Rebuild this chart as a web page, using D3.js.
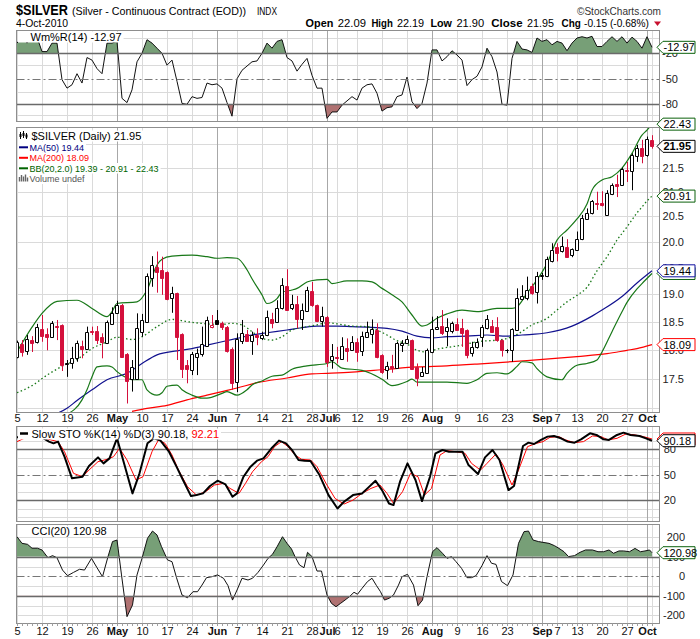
<!DOCTYPE html>
<html>
<head>
<meta charset="utf-8">
<script src="https://cdn.jsdelivr.net/npm/d3@7"></script>
<style>
  body { margin: 0; background: #fff; }
  svg { display: block; }
  text { font-family: "Liberation Sans", Arial, sans-serif; }
</style>
</head>
<body>
<div id="chart"></div>
<script>
'use strict';

// ---- data (bar index 0 = 5-Apr-2010, 127 = 4-Oct-2010) ----
const open = [17.88,18.10,17.97,18.17,18.13,18.37,18.28,18.23,18.43,18.44, 17.75,17.76,17.85,18.07,18.02,18.33,18.33,18.23,18.11,18.46,
  18.65,18.80,17.92,17.49,17.49,18.32,18.50,19.31,19.52,19.46, 19.41,18.94,19.02,18.27,17.73,17.65,17.87,17.93,18.07,18.40,
  18.53,18.47,18.41,18.02,17.45,18.16,18.28,18.16,18.26,18.20, 18.26,18.55,18.50,18.74,19.15,18.74,18.82,18.54,18.70,19.06,
  18.80,18.52,18.59,17.82,17.88,17.83,18.03,17.99,18.13,17.98, 18.23,18.28,18.35,17.91,17.65,17.71,17.69,18.09,18.11,18.17,
  17.70,17.54,17.59,17.96,18.37,18.42,18.34,18.34,18.45,18.38, 18.35,17.94,18.04,18.22,18.38,18.42,18.41,18.17,17.99,17.99,
  18.35,18.91,18.93,19.15,19.05,19.34,19.34,19.62,19.90,19.81, 19.89,19.74,19.84,20.05,20.44,20.56,20.77,20.77,20.53,20.95,
  21.15,21.14,21.45,21.42,21.75,21.91,21.77,22.09];
const high = [18.16,18.17,18.26,18.24,18.46,18.62,18.38,18.51,18.53,18.45, 17.82,18.05,18.16,18.16,18.41,18.41,18.42,18.29,18.52,18.76,
  18.88,18.82,17.94,17.82,18.65,18.64,19.39,19.72,19.81,19.71, 19.43,19.14,19.03,18.29,17.82,17.96,18.02,18.41,18.59,18.62,
  18.71,18.50,18.42,18.04,18.29,18.53,18.35,18.32,18.38,18.32, 18.70,18.66,18.89,19.30,19.47,18.99,18.97,18.83,19.14,19.23,
  18.81,18.77,18.60,18.10,18.05,18.22,18.20,18.24,18.20,18.32, 18.50,18.54,18.47,17.92,17.79,17.91,18.14,18.17,18.25,18.18,
  17.76,17.70,18.02,18.59,18.60,18.71,18.56,18.50,18.56,18.55, 18.36,18.14,18.20,18.44,18.62,18.53,18.58,18.18,18.01,18.38,
  19.11,19.17,19.33,19.20,19.42,19.40,19.71,19.97,19.97,20.10, 20.05,19.87,20.20,20.53,20.66,20.83,21.00,21.01,21.03,21.17,
  21.35,21.50,21.62,21.80,21.98,22.09,22.16,22.19];
const low = [17.85,17.88,17.91,17.96,18.11,18.14,17.99,18.23,18.17,17.63, 17.53,17.67,17.79,17.85,18.01,18.26,18.10,17.85,18.10,18.44,
  18.64,17.87,17.08,17.28,17.48,18.23,18.48,19.14,19.03,18.99, 18.89,18.66,17.82,17.51,17.42,17.56,17.56,17.88,18.05,18.38,
  18.44,18.35,17.95,17.31,17.27,18.10,18.14,17.91,18.08,18.17, 18.24,18.38,18.48,18.72,18.71,18.71,18.38,18.35,18.68,18.77,
  18.49,18.41,17.70,17.67,17.76,17.82,17.79,17.98,17.79,17.89, 18.23,18.11,17.85,17.58,17.49,17.60,17.67,17.96,18.10,17.65,
  17.37,17.54,17.58,17.94,18.35,18.26,18.06,18.29,18.35,18.05, 17.85,17.88,18.02,18.05,18.36,18.30,18.14,17.88,17.94,17.79,
  18.34,18.89,18.89,18.99,18.83,19.27,19.32,19.60,19.62,19.79, 19.70,19.70,19.82,20.03,20.43,20.54,20.63,20.70,20.52,20.93,
  20.89,21.12,21.20,21.03,21.62,21.59,21.73,21.90];
const close = [18.13,17.96,18.19,18.11,18.40,18.25,18.23,18.47,18.40,17.74, 17.77,17.86,18.11,18.01,18.32,18.31,18.18,18.13,18.50,18.66,
  18.80,17.88,17.46,17.70,18.38,18.53,19.34,19.56,19.42,19.31, 18.92,19.03,18.23,17.67,17.66,17.92,17.95,18.10,18.53,18.44,
  18.46,18.41,17.98,17.43,18.19,18.30,18.16,18.26,18.22,18.26, 18.58,18.48,18.74,19.18,18.72,18.83,18.54,18.71,19.08,18.80,
  18.51,18.61,17.79,17.89,17.85,18.07,17.98,18.13,17.96,18.24, 18.32,18.36,17.87,17.62,17.71,17.68,18.11,18.12,18.19,17.67,
  17.51,17.62,17.99,18.36,18.41,18.30,18.41,18.47,18.35,18.30, 17.91,18.05,18.13,18.41,18.54,18.32,18.17,17.99,18.00,18.36,
  18.93,18.96,19.08,19.02,19.35,19.37,19.66,19.84,19.79,19.92, 19.71,19.85,20.06,20.46,20.57,20.81,20.75,20.73,20.97,21.14,
  21.12,21.48,21.43,21.77,21.91,21.75,22.10,21.95];
const prevClose = 17.90;

// overlays: [bar index, value]
const ma50 = [[7,16.88],[10,17.00],[12,17.13],[15,17.31],[18,17.48],[22,17.59],[25,17.76],[28,17.91],[32,17.98],[35,18.02],[38,18.08],
  [41,18.14],[44,18.20],[47,18.26],[50,18.30],[54,18.35],[57,18.39],[60,18.42],[64,18.42],[67,18.41],[70,18.40],[74,18.38],
  [77,18.33],[80,18.24],[83,18.21],[86,18.23],[90,18.24],[94,18.26],[98,18.24],[101,18.26],[106,18.30],[111,18.42],[115,18.60],
  [117,18.71],[121,18.96],[124,19.21],[127,19.44]];
const ma200 = [[23,16.95],[26,17.00],[30,17.05],[34,17.14],[38,17.22],[41,17.28],[44,17.34],[48,17.43],[54,17.51],[59,17.58],
  [62,17.59],[67,17.61],[74,17.66],[80,17.70],[86,17.72],[92,17.75],[102,17.81],[112,17.88],[118,17.93],[122,17.99],[124,18.02],[127,18.09]];
const bbUpper = [[0,17.96],[3,18.40],[5,18.65],[8,18.87],[12,18.89],[15,18.74],[18,18.59],[19,18.68],[20,18.83],[24,18.86],[26,19.08],
  [28,19.55],[29,19.66],[31,19.72],[35,19.74],[38,19.71],[40,19.68],[42,19.69],[44,19.68],[46,19.46],[47,19.29],[49,18.99],[50,18.83],
  [52,18.92],[53,19.04],[55,19.08],[56,19.11],[58,19.23],[60,19.27],[62,19.28],[63,19.20],[66,19.25],[69,19.25],[71,19.23],[73,19.11],
  [75,18.99],[77,18.86],[79,18.62],[81,18.42],[82,18.44],[84,18.56],[86,18.64],[89,18.71],[92,18.68],[96,18.74],[99,18.74],[100,18.77],
  [102,19.02],[104,19.27],[106,19.58],[108,20.03],[110,20.23],[112,20.45],[114,20.75],[115,21.03],[117,21.24],[119,21.31],[121,21.49],
  [123,21.80],[125,22.19],[126,22.30],[127,22.43]];
const bbMid = [[0,17.26],[3,17.38],[6,17.56],[9,17.71],[12,17.83],[15,18.02],[18,18.14],[20,18.22],[23,18.18],[25,18.23],[28,18.41],
  [31,18.54],[34,18.50],[38,18.46],[41,18.45],[43,18.47],[45,18.44],[47,18.32],[49,18.20],[51,18.17],[53,18.23],[55,18.35],[58,18.41],
  [60,18.44],[62,18.48],[64,18.46],[67,18.42],[70,18.41],[72,18.35],[74,18.26],[76,18.16],[78,18.10],[80,17.99],[82,17.96],[84,18.01],
  [86,18.04],[89,18.08],[92,18.14],[96,18.17],[98,18.20],[100,18.27],[103,18.44],[106,18.56],[108,18.71],[110,18.86],[112,18.98],
  [114,19.13],[116,19.44],[118,19.71],[120,20.03],[122,20.29],[124,20.57],[125,20.69],[126,20.81],[127,20.91]];
const bbLower = [[10,16.90],[13,17.14],[14,17.31],[15,17.53],[16,17.70],[18,17.72],[19,17.70],[20,17.62],[22,17.51],[23,17.48],[25,17.48],
  [26,17.31],[28,17.22],[29,17.26],[30,17.37],[32,17.39],[33,17.31],[35,17.22],[37,17.17],[38,17.17],[41,17.25],[42,17.28],[44,17.22],
  [46,17.31],[47,17.39],[49,17.46],[51,17.54],[53,17.56],[55,17.66],[58,17.72],[62,17.76],[63,17.79],[65,17.68],[69,17.64],[73,17.49],
  [75,17.38],[78,17.45],[79,17.49],[80,17.44],[86,17.44],[90,17.42],[92,17.48],[94,17.59],[96,17.60],[98,17.58],[100,17.71],[101,17.79],
  [103,17.77],[104,17.67],[106,17.53],[109,17.48],[110,17.59],[112,17.73],[114,17.76],[116,17.82],[117,17.96],[119,18.32],[121,18.68],
  [122,18.85],[124,19.10],[125,19.20],[127,19.39]];

// Williams %R, one value per bar
const wmr = [-8,-1,-8,-1,-1,-18,-18,-8,-8,-51, -61,-57,-44,-55,-25,-28,-38,-44,-8,-8,
  -6,-73,-78,-63,-30,-20,-4,-8,-14,-20, -34,-28,-53,-79,-80,-71,-73,-72,-55,-57,
  -56,-61,-78,-94,-50,-40,-35,-30,-29,-20, -8,-14,-6,-4,-25,-29,-41,-33,-26,-46,
  -61,-61,-96.5,-89,-89,-81,-76,-71,-75,-61, -57,-56,-67,-88,-84,-83,-71,-69,-48,-77,
  -85,-79,-55,-16,-16,-29,-24,-17,-22,-28, -58,-51,-47,-36,-14,-24,-42,-80,-81,-26,
  -6,-15,-16,-19,-2,-6,-4,-10,-6,-8, -17,-8,-2,-0.5,-2,0,-12,-12,-6,-0.5,
  -6,-0.5,-8,-1,-6,-14,-0.5,-12.97];

// slow stochastics %K and %D, [bar index, value]
const stoK = [[0,94.2],[1.9,94.2],[3.7,94.2],[5,94.2],[6.4,89.1],[7.3,87.1],[8.2,89.1],[9.5,71.3],[11,45.7],[13.1,47.6],[14.4,60.3],
  [16.2,70.5],[17.3,63.4],[18.5,69.3],[20,93],[21.6,59.5],[23.1,27.9],[24.5,51.6],[26.1,87.1],[27.4,93],[28.7,90.3],[30.4,77.2],
  [31.9,59.5],[33.2,43.7],[34.8,24.7],[35.9,25.9],[37.2,27.9],[38.6,36.6],[40.1,42.9],[41.7,38.5],[43.1,23.9],[44,27.9],[45.3,47.6],
  [46.6,58.7],[48,66.6],[49.3,69.3],[50.9,81.2],[52.4,90.3],[53.8,87.1],[55.1,78.4],[56.3,67.4],[57.5,66.6],[58.7,66.2],[60.5,49.6],
  [62.3,25.9],[64.1,10.1],[65.4,18],[67.2,25.9],[69,27.9],[70.3,35],[71.7,42.9],[73,31.8],[74.4,16],[75.3,14.1],[76.6,41.7],
  [78.1,63.4],[79.7,43.7],[81,18.8],[82.6,47.6],[83.7,75.3],[85.1,79.2],[86.4,77.2],[87.8,77.2],[89.1,77.2],[90.3,61.4],[92.2,50.8],
  [93.6,70.5],[95.1,79.2],[96.5,67.4],[98.3,31.8],[99.4,36.6],[101.2,83.9],[102.3,87.9],[103.4,86.3],[104.8,91.1],[106.1,95],
  [107.4,95.8],[108.8,93],[110.1,89.1],[111.5,87.9],[112.8,91.8],[114.6,98.9],[115.9,97],[117.3,91.8],[118.4,91.1],[120,97],
  [121.3,99.7],[122.7,97],[124.5,95.8],[125.8,93],[127,90.18]];
const stoD = [[0,89.1],[1.9,94.2],[3.7,94.2],[5.5,93],[6.8,91.1],[8.2,89.1],[9.5,77.2],[11.3,51.6],[13.1,47.6],[14.4,55.5],[16.2,65.4],
  [18,68.2],[19.3,71.3],[20.5,81.2],[22,67.4],[23.8,43.7],[25.2,47.6],[27,77.2],[28.3,91.1],[29.6,87.1],[31,73.3],[32.3,55.5],
  [34.1,35.8],[35.9,25.9],[37.7,29.9],[39.5,37.8],[41.3,39.7],[42.6,33.8],[44.4,27.9],[45.7,39.7],[47.1,53.5],[48.9,65.4],[50.2,71.3],
  [51.5,83.2],[52.9,89.1],[54.2,83.2],[55.6,73.3],[56.9,68.2],[58.7,67.4],[60,59.5],[61.8,39.7],[63.6,22],[65.4,15.3],[67.2,20],
  [69,27.9],[70.8,33.8],[72.6,37.8],[74,27.9],[75.3,16],[77.1,29.9],[78.7,51.6],[80.2,47.6],[81.5,25.9],[82.9,33.8],[84.6,73.3],
  [86,78.4],[87.8,77.2],[89.6,75.3],[90.9,63.4],[92.7,55.5],[94,63.4],[95.8,74.5],[97.2,61.4],[99,37.8],[100.3,55.5],[102.1,83.2],
  [103.9,87.1],[105.2,89.1],[106.6,94.2],[108.4,95],[109.7,91.1],[111.5,87.9],[113.3,89.1],[115.1,95.8],[116.8,95],[118.2,91.1],
  [120,93],[121.8,98.2],[123.6,97],[125.3,95],[127,92.21]];

// CCI(20), [bar index, value]
const cci = [[0,203],[1,169],[2.1,164],[3,144],[4.1,144],[5,135],[6.2,95],[7.1,106],[8,95],[9.1,32],[10.1,3],[11.3,20],[12.5,36],
  [13.5,32],[14.9,92],[16,44],[17.1,-2],[18.2,101],[19.1,178],[20,186],[20.9,7],[22,-207],[23.1,-147],[24,7],[25,92],[26.1,195],
  [27.1,232],[28,212],[28.9,152],[30.1,84],[31,75],[31.9,-7],[33,-96],[34.1,-110],[35.2,-79],[36.1,-79],[37,-45],[37.9,-7],[39,-2],
  [40.1,7],[41.3,-10],[42.2,-48],[43.1,-122],[44.1,-65],[45,-10],[46.2,-19],[47.1,-10],[48.2,20],[49.3,58],[50.2,92],[51.1,113],
  [52,151],[53.1,203],[54,169],[54.9,140],[55.6,101],[56.5,58],[57.4,44],[58.1,123],[59,101],[60,27],[60.9,27],[62,-96],[62.9,-139],
  [63.8,-156],[64.7,-139],[65.6,-122],[66.5,-104],[67.4,-82],[68.1,-92],[69,-62],[70.1,-27],[71,-10],[71.9,-48],[72.7,-79],
  [73.5,-122],[74.4,-113],[75.3,-96],[76.3,-45],[77,-2],[78.1,10],[79.3,-45],[80.2,-151],[81.1,-122],[82,-2],[83.1,126],[84,147],
  [85.1,118],[86,92],[86.9,101],[87.8,75],[88.9,41],[90,-7],[90.9,-7],[91.8,3],[93,55],[94,106],[94.9,67],[95.8,61],[96.9,-27],
  [98.1,-48],[99.2,7],[100.3,169],[101.4,229],[102.3,232],[103.2,186],[104.3,178],[105.2,174],[106.4,169],[107.5,157],[108.4,143],
  [109.4,126],[110.3,101],[111.5,106],[112.6,123],[113.7,135],[115.1,135],[116.2,126],[117.3,126],[118.4,135],[119.3,118],
  [120.4,130],[121.3,130],[122.5,126],[123.6,143],[124.7,126],[125.6,130],[126.5,135],[127,120.98]];

// x axis: first trading day of each week, month starts, tick labels
const weekStarts = [0,5,10,15,20,25,30,35,40,44,49,54,59,62,64,68,73,78,83,88,93,98,103,105,108,112,117,122,126,127];
const monthStarts = [20,40,62,83,105,126];
const xTicks = [[0,'5'],[5,'12'],[10,'19'],[15,'26'],[20,'May'],[25,'10'],[30,'17'],[35,'24'],[40,'Jun'],[44,'7'],[49,'14'],
  [54,'21'],[59,'28'],[62,'Jul'],[64,'6'],[68,'12'],[73,'19'],[78,'26'],[83,'Aug'],[88,'9'],[93,'16'],[98,'23'],[105,'Sep'],
  [108,'7'],[112,'13'],[117,'20'],[122,'27'],[126,'Oct']];

const priceTicks = [17.0,17.5,18.0,18.5,19.0,19.5,20.0,20.5,21.0,21.5,22.0];
const priceLabels = [17.5,18.0,18.5,19.0,19.5,20.0,20.5,21.0,21.5];
const quoteLabels = ['Open','High','Low','Close','Chg'];
const quoteValues = ['22.09','22.19','21.90','21.95','-0.15 (-0.68%)'];

// ---- layout ----
const W = 700, H = 639;
const plotL = 16.5, plotR = 659.5;
const RED = '#d4103c', GREEN_FILL = '#779f77', RED_FILL = '#b07272';
const BB = '#187818', MA50C = '#12128f', MA200C = '#ff0000';

const svg = d3.select('#chart').append('svg').attr('width', W).attr('height', H);
const defs = svg.append('defs');

const x = d3.scaleLinear().domain([0, 127]).range([17, 652]);
const cx = i => x(i) + 0.5;
const crisp = v => Math.round(v) + 0.5;

const pWmr = {name: 'wmr', top: 30.5, bottom: 121.5};
const pPrice = {name: 'price', top: 127.5, bottom: 412.5};
const pSto = {name: 'sto', top: 426.5, bottom: 521.5};
const pCci = {name: 'cci', top: 524.5, bottom: 623.5};

const yW = d3.scaleLinear().domain([-100, 0]).range([121.3, 36.3]);
const yP = d3.scaleLog().domain([17.5, 22]).range([378.6, 144.0]);
const yS = d3.scaleLinear().domain([0, 100]).range([517, 432.4]);
const yC = d3.scaleLinear().domain([-200, 200]).range([615.3, 537.3]);

function clip(id, x0, y0, x1, y1) {
  defs.append('clipPath').attr('id', id).append('rect')
    .attr('x', x0).attr('y', y0).attr('width', x1 - x0).attr('height', y1 - y0);
  return 'url(#' + id + ')';
}

function grid(p, y, values) {
  const g = svg.append('g');
  g.selectAll(null).data(values).join('line')
    .attr('x1', plotL).attr('x2', plotR)
    .attr('y1', d => crisp(y(d))).attr('y2', d => crisp(y(d)))
    .attr('stroke', '#dadada');
  g.selectAll(null).data(weekStarts).join('line')
    .attr('x1', cx).attr('x2', cx).attr('y1', p.top).attr('y2', p.bottom)
    .attr('stroke', d => monthStarts.includes(d) ? '#a8a8a8' : '#dadada');
}

function level(p, y, v, dashed) {
  svg.append('line').attr('x1', plotL).attr('x2', plotR)
    .attr('y1', crisp(y(v))).attr('y2', crisp(y(v)))
    .attr('stroke', dashed ? '#777' : '#6a6a6a').attr('stroke-width', dashed ? 1 : 1.4)
    .attr('stroke-dasharray', dashed ? '8,3,2,3' : null);
}

function border(p) {
  svg.append('rect').attr('x', plotL).attr('y', p.top).attr('width', plotR - plotL).attr('height', p.bottom - p.top)
    .attr('fill', 'none').attr('stroke', '#8e8e8e');
}

function axisLabels(y, values, anchorX, fmt) {
  svg.append('g').selectAll(null).data(values).join('text')
    .attr('x', anchorX).attr('y', d => y(d)).attr('dy', '0.36em')
    .attr('text-anchor', 'end').attr('font-size', 11).attr('fill', '#222')
    .text(fmt || (d => d));
}

// value tag at the right axis; label null = tag hidden under another one
function tag(yv, label, color, bold) {
  const h = 12, x0 = 657, w = 38;
  const pts = [[x0, yv], [x0 + 6, yv - h / 2], [x0 + w, yv - h / 2], [x0 + w, yv + h / 2], [x0 + 6, yv + h / 2]];
  svg.append('path').attr('d', d3.line()(pts) + 'Z').attr('fill', '#fff').attr('stroke', color);
  if (label === null) return;
  svg.append('text').attr('x', x0 + 6.5).attr('y', yv).attr('dy', '0.36em')
    .attr('font-size', 11).attr('font-weight', bold ? 'bold' : null).attr('fill', '#000').text(label);
}

function legendLine(xText, baseline, size, parts, boxH) {
  const t = svg.append('text').attr('x', xText).attr('y', baseline)
    .attr('font-family', '"DejaVu Sans", Verdana, sans-serif').attr('font-size', size);
  parts.forEach(([s, c]) => t.append('tspan').attr('fill', c).text(s));
  const w = t.node().getComputedTextLength();
  svg.insert('rect', () => t.node())
    .attr('x', 18).attr('y', baseline - boxH + 2).attr('width', xText - 18 + w + 2).attr('height', boxH)
    .attr('fill', '#fff');
  return t;
}

function mountainIcon(x0, y0) {
  svg.append('path')
    .attr('d', `M${x0},${y0 + 8} L${x0 + 2},${y0 + 1} L${x0 + 4},${y0 + 5} L${x0 + 6},${y0 + 2} L${x0 + 8},${y0 + 8} Z`)
    .attr('fill', GREEN_FILL).attr('stroke', '#000').attr('stroke-width', 1);
}

function xTickMarks(p) {
  svg.append('g').selectAll(null).data(d3.range(128)).join('line')
    .attr('x1', cx).attr('x2', cx).attr('y1', p.bottom).attr('y2', p.bottom + 2.5)
    .attr('stroke', '#a0a0a0');
}

function xAxisLabels(baseline) {
  svg.append('g').selectAll(null).data(xTicks).join('text')
    .attr('x', d => cx(d[0])).attr('y', baseline).attr('text-anchor', 'middle')
    .attr('font-size', 11).attr('font-weight', d => isNaN(+d[1]) ? 'bold' : null)
    .attr('fill', '#111').text(d => d[1]);
}

// ---- header ----
const NARROW = '"Liberation Sans Narrow", "Liberation Sans", Arial, sans-serif';
function htext(x0, y0, s, size, w, bold, fill) {
  svg.append('text').attr('x', x0).attr('y', y0).attr('font-family', NARROW).attr('font-size', size)
    .attr('font-weight', bold ? 'bold' : null).attr('fill', fill || '#000')
    .attr('textLength', w).attr('lengthAdjust', 'spacingAndGlyphs').text(s);
}
htext(16, 15, '$SILVER', 15, 52, true);
htext(72, 15, '(Silver - Continuous Contract (EOD))', 11, 174);
htext(257, 14.5, 'INDX', 10, 20);
htext(16, 26.5, '4-Oct-2010', 11, 52);
htext(577, 14.5, '\u00A9StockCharts.com', 10.5, 84, false, '#333');
const quoteLabelX = [[305.6, 27.7], [371.4, 21.4], [430.4, 21.5], [491.3, 31.3], [561.5, 19.3]];
const quoteValueX = [[337.8, 28.2], [396.9, 27.3], [456.4, 27.8], [527, 27], [584, 64.8]];
quoteLabels.forEach((s, k) => htext(quoteLabelX[k][0], 26.5, s, 11.5, quoteLabelX[k][1], true));
quoteValues.forEach((s, k) => htext(quoteValueX[k][0], 26.5, s, 11, quoteValueX[k][1]));
svg.append('path').attr('d', 'M654,21.5 L661,21.5 L657.5,26 Z').attr('fill', '#c8102e');

// ---- Williams %R panel ----
grid(pWmr, yW, [-2.5, -34, -65, -93]);
const clipW = clip('clip-wmr', plotL, pWmr.top, plotR, pWmr.bottom);
const wg = svg.append('g').attr('clip-path', clipW);
const wArea = base => d3.area().x((d, i) => x(i)).y0(yW(base)).y1(d => yW(d));
wg.append('path').datum(wmr).attr('d', wArea(-20)).attr('fill', GREEN_FILL)
  .attr('clip-path', clip('clip-wmr-up', plotL, pWmr.top, plotR, yW(-20)));
wg.append('path').datum(wmr).attr('d', wArea(-80)).attr('fill', RED_FILL)
  .attr('clip-path', clip('clip-wmr-dn', plotL, yW(-80), plotR, pWmr.bottom));
level(pWmr, yW, -20); level(pWmr, yW, -80); level(pWmr, yW, -50, true);
wg.append('path').datum(wmr).attr('d', d3.line().x((d, i) => x(i)).y(d => yW(d)))
  .attr('fill', 'none').attr('stroke', '#111').attr('stroke-width', 1);
border(pWmr);
axisLabels(yW, [-20, -50, -80], 678);
tag(yW(-12.97), '-12.97', '#0b610b');
mountainIcon(19, 31.5);
legendLine(30.5, 40.5, 11, [['Wm%R(14) -12.97', '#000']], 11);

// ---- price panel ----
grid(pPrice, yP, priceTicks);
const clipP = clip('clip-price', plotL, pPrice.top, plotR, pPrice.bottom);
const pg = svg.append('g').attr('clip-path', clipP);
const ovLine = d3.line().x(d => x(d[0])).y(d => yP(d[1])).curve(d3.curveMonotoneX);
pg.append('path').datum(ma200).attr('d', ovLine).attr('fill', 'none').attr('stroke', MA200C).attr('stroke-width', 1.2);
pg.append('path').datum(ma50).attr('d', ovLine).attr('fill', 'none').attr('stroke', MA50C).attr('stroke-width', 1.2);
pg.append('path').datum(bbMid).attr('d', ovLine).attr('fill', 'none').attr('stroke', BB).attr('stroke-width', 1.3)
  .attr('stroke-dasharray', '1.5,2.5');
[bbUpper, bbLower].forEach(s => pg.append('path').datum(s).attr('d', ovLine)
  .attr('fill', 'none').attr('stroke', BB).attr('stroke-width', 1.2));

const bars = d3.range(close.length).map(i => {
  const prev = i ? close[i - 1] : prevClose;
  return {i, o: open[i], h: high[i], l: low[i], c: close[i], col: close[i] < prev ? RED : '#000'};
});
const cg = pg.append('g');
cg.selectAll(null).data(bars).join('line')
  .attr('x1', d => cx(d.i)).attr('x2', d => cx(d.i))
  .attr('y1', d => yP(d.h)).attr('y2', d => yP(d.l)).attr('stroke', d => d.col);
cg.selectAll(null).data(bars).join('path')
  .attr('d', d => {
    const x0 = x(d.i) - 1.5, x1 = x(d.i) + 1.5;
    const yt = crisp(yP(Math.max(d.o, d.c))), yb = crisp(yP(Math.min(d.o, d.c)));
    return `M${x0},${yt}H${x1}V${yb}H${x0}Z`;
  })
  .attr('fill', d => d.c < d.o ? d.col : '#fff').attr('stroke', d => d.col);

border(pPrice);
axisLabels(yP, priceLabels, 684, d => d.toFixed(1));
tag(yP(22.43), '22.43', '#0b610b');
tag(yP(21.95), '21.95', '#000', true);
tag(yP(20.91), '20.91', '#0b610b');
tag(yP(19.39), null, '#0b610b');
tag(yP(19.44), '19.44', '#1010a0');
tag(yP(18.09), '18.09', '#ff0000');

// price legend
legendLine(31.5, 139.5, 11, [['$SILVER (Daily) 21.95', '#000']], 11);
const ic = svg.append('g').attr('stroke', '#000');
[[20.5, 132, 139, 134, 137], [23.5, 131, 138, 133, 136], [26.5, 133, 139, 134.5, 137.5]].forEach(([xx, y1, y2, b1, b2]) => {
  ic.append('line').attr('x1', xx).attr('x2', xx).attr('y1', y1).attr('y2', y2);
  ic.append('rect').attr('x', xx - 1).attr('y', b1).attr('width', 2).attr('height', b2 - b1).attr('fill', '#000').attr('stroke', 'none');
});
const legendRows = [
  ['MA(50) 19.44', '#000080', 150.5],
  ['MA(200) 18.09', '#ff0000', 161],
  ['BB(20,2.0) 19.39 - 20.91 - 22.43', '#006400', 171.5]
];
legendRows.forEach(([s, c, b]) => {
  legendLine(29.5, b, 9, [[s, c]], 10.5);
  svg.append('line').attr('x1', 19).attr('x2', 28).attr('y1', b - 3.2).attr('y2', b - 3.2)
    .attr('stroke', c).attr('stroke-width', 2);
});
legendLine(29.5, 182, 9, [['Volume undef', '#555']], 10.5);
[[19.5, 177], [21.5, 175], [23.5, 176.5], [25.5, 174.5], [27.5, 177.5]].forEach(([xx, yy]) =>
  svg.append('line').attr('x1', xx).attr('x2', xx).attr('y1', yy).attr('y2', 181.5).attr('stroke', '#666').attr('stroke-width', 1.4));

xAxisLabels(422);

// ---- slow stochastics panel ----
grid(pSto, yS, [0, 10, 30, 40, 60, 70, 90, 100]);
const clipS = clip('clip-sto', plotL, pSto.top, plotR, pSto.bottom);
level(pSto, yS, 80); level(pSto, yS, 20); level(pSto, yS, 50, true);
const sg = svg.append('g').attr('clip-path', clipS);
const sLine = d3.line().x(d => x(d[0])).y(d => yS(d[1]));
sg.append('path').datum(stoD).attr('d', sLine).attr('fill', 'none').attr('stroke', '#ff0000').attr('stroke-width', 1);
sg.append('path').datum(stoK).attr('d', sLine).attr('fill', 'none').attr('stroke', '#000').attr('stroke-width', 2)
  .attr('stroke-linejoin', 'round');
border(pSto);
axisLabels(yS, [80, 50, 20], 676);
tag(yS(92.21), null, '#ff0000');
tag(yS(90.18), '90.18', '#000');
legendLine(31.5, 437.5, 11, [['Slow STO %K(14) %D(3) 90.18, ', '#000'], ['92.21', '#ff0000']], 11);
svg.append('line').attr('x1', 20).attr('x2', 28).attr('y1', 433.5).attr('y2', 433.5).attr('stroke', '#000').attr('stroke-width', 2.5);

// ---- CCI panel ----
grid(pCci, yC, [-150, -50, 50, 150, 200, -200]);
const clipC = clip('clip-cci', plotL, pCci.top, plotR, pCci.bottom);
const ccg = svg.append('g').attr('clip-path', clipC);
const cArea = base => d3.area().x(d => x(d[0])).y0(yC(base)).y1(d => yC(d[1]));
ccg.append('path').datum(cci).attr('d', cArea(100)).attr('fill', GREEN_FILL)
  .attr('clip-path', clip('clip-cci-up', plotL, pCci.top, plotR, yC(100)));
ccg.append('path').datum(cci).attr('d', cArea(-100)).attr('fill', RED_FILL)
  .attr('clip-path', clip('clip-cci-dn', plotL, yC(-100), plotR, pCci.bottom));
level(pCci, yC, 100); level(pCci, yC, -100); level(pCci, yC, 0, true);
ccg.append('path').datum(cci).attr('d', d3.line().x(d => x(d[0])).y(d => yC(d[1])))
  .attr('fill', 'none').attr('stroke', '#111').attr('stroke-width', 1);
border(pCci);
axisLabels(yC, [200, 100, 0, -100, -200], 685);
tag(yC(120.98), '120.98', '#0b610b');
mountainIcon(19, 526);
legendLine(31.5, 535, 11, [['CCI(20) 120.98', '#000']], 11);

xTickMarks(pCci);
xAxisLabels(634.5);
</script>
</body>
</html>
